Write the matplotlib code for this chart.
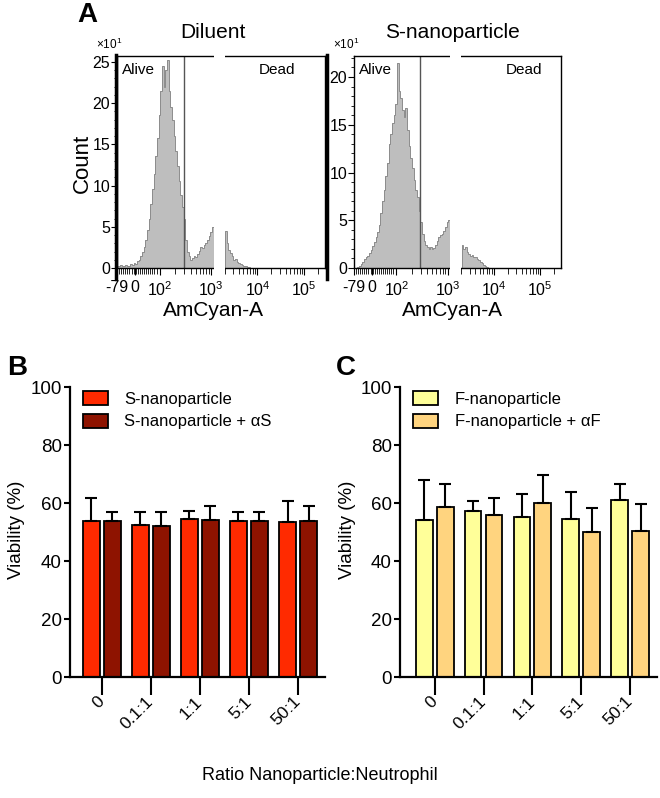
import matplotlib
matplotlib.use('Agg')
import matplotlib.pyplot as plt
import matplotlib.transforms as mtransforms
from matplotlib.patches import Rectangle
from matplotlib.lines import Line2D
import numpy as np

plt.rcParams['font.family'] = ['Liberation Sans', 'DejaVu Sans']
plt.rcParams['mathtext.default'] = 'regular'

# ---- panel A: flow histograms (counts x10, channel bins of 8) ----
diluent_alive = [0.2, 0.3, 0.4, 0.2, 0.3, 0.4, 0.2, 0.3, 0.5, 0.4, 0.6, 0.5,
                 0.8, 1.0, 1.4, 2.0, 2.6, 3.4, 4.6, 6.0, 7.8, 9.6, 11.4, 13.6,
                 15.8, 18.6, 21.5, 24.5, 22.0, 24.0, 25.2, 21.5, 19.5, 18.0,
                 16.0, 14.2, 12.4, 10.6, 8.8, 7.4, 6.0, 3.4, 2.0, 1.4, 1.0,
                 1.2, 1.5, 1.3, 1.7, 2.1, 2.5, 2.4, 2.8, 3.0, 3.4, 3.9, 4.4, 5.0]
diluent_dead = [4.5, 3.0, 2.2, 1.8, 1.4, 1.0, 1.1, 0.7, 0.6, 0.5, 0.4, 0.3,
                0.2, 0.1, 0.1]
snp_alive = [0.0, 0.0, 0.1, 0.2, 0.4, 0.6, 0.9, 1.1, 1.3, 1.6, 1.9, 2.3, 2.7,
             3.2, 3.8, 4.5, 5.8, 7.0, 8.2, 9.6, 11.0, 13.0, 14.0, 15.2, 16.0,
             17.2, 21.5, 18.5, 17.8, 16.5, 15.8, 16.8, 14.5, 12.8, 11.5, 10.5,
             9.2, 8.2, 7.4, 6.0, 4.8, 3.6, 2.8, 2.4, 2.2, 2.0, 2.2, 2.0, 2.1,
             2.4, 2.8, 3.2, 3.5, 3.6, 3.9, 4.3, 4.8, 5.0]
snp_dead = [2.4, 2.0, 2.2, 1.7, 1.5, 1.3, 1.4, 1.1, 1.2, 0.9, 0.8, 0.6, 0.5,
            0.3, 0.2, 0.1]
bin_width = 8
dead_start = 520
gate_channel = 320
gap = (466, 518)
x_tick_pos = [0, 88, 205, 452, 675, 900]
x_tick_lab = ['-79', '0', r'$10^{2}$', r'$10^{3}$', r'$10^{4}$', r'$10^{5}$']

# ---- panels B, C: viability ----
ratios = ['0', '0.1:1', '1:1', '5:1', '50:1']
s_np = [53.7, 52.5, 54.6, 53.9, 53.5]
s_np_err = [7.9, 4.5, 2.8, 3.0, 7.1]
s_np_ab = [53.9, 52.1, 54.2, 53.9, 53.9]
s_np_ab_err = [3.0, 4.9, 4.8, 3.0, 5.1]
f_np = [54.2, 57.3, 55.1, 54.6, 61.0]
f_np_err = [13.8, 3.3, 8.0, 9.1, 5.7]
f_np_ab = [58.5, 55.7, 59.9, 50.1, 50.3]
f_np_ab_err = [8.2, 5.9, 9.8, 8.1, 9.4]

W, H = 660, 798
fig = plt.figure(figsize=(W / 100, H / 100), dpi=100)


def frect(x0, y0, x1, y1):
    return [x0 / W, 1 - y1 / H, (x1 - x0) / W, (y1 - y0) / H]


def ftext(x, y, s, **kw):
    fig.text(x / W, 1 - y / H, s, **kw)


def minor_x():
    pos = list(np.arange(10, 200, 10))
    decades = [(205, 452), (452, 675), (675, 900), (900, 1125)]
    for a, b in decades:
        for k in range(2, 10):
            p = a + np.log10(k) * (b - a)
            if p < 1000:
                pos.append(p)
    return pos


def draw_hist(box, alive, dead, ymax, yticks, title, tx, dead_x):
    ax = fig.add_axes(frect(*box))
    e1 = np.arange(len(alive) + 1) * bin_width
    e2 = dead_start + np.arange(len(dead) + 1) * bin_width
    for vals, edges in ((alive, e1), (dead, e2)):
        ax.stairs(vals, edges, fill=True, facecolor='#BEBEBE',
                  edgecolor='none', zorder=1)
        ax.stairs(vals, edges, color='#8C8C8C', lw=0.7, zorder=1.5)
    ax.axvline(gate_channel, color='#555555', lw=1, zorder=2)
    ax.set_xlim(0, 1000)
    ax.set_ylim(0, ymax)
    for s in ax.spines.values():
        s.set_linewidth(1)
    ax.set_xticks(x_tick_pos)
    ax.set_xticklabels(x_tick_lab, fontsize=11.5)
    ax.set_xticks(minor_x(), minor=True)
    ax.set_yticks(yticks)
    ax.set_yticklabels([str(t) for t in yticks], fontsize=11.5)
    ax.set_yticks(np.arange(0, ymax, 1), minor=True)
    ax.tick_params(axis='x', which='major', length=5, width=0.8, pad=4)
    ax.tick_params(axis='x', which='minor', length=4, width=0.6)
    ax.tick_params(axis='y', which='major', length=4, width=0.8, pad=1)
    ax.tick_params(axis='y', which='minor', length=2.5, width=0.6)
    tr = mtransforms.blended_transform_factory(ax.transData, ax.transAxes)
    ax.add_patch(Rectangle((gap[0], -0.03), gap[1] - gap[0], 1.06,
                           transform=tr, facecolor='white', edgecolor='none',
                           clip_on=False, zorder=5))
    ax.text(0.025, 0.935, 'Alive', transform=ax.transAxes, fontsize=11,
            ha='left', va='center')
    ax.text(dead_x, 0.935, 'Dead', transform=ax.transAxes, fontsize=11,
            ha='center', va='center')
    ftext(tx, 33, title, fontsize=15, ha='center', va='center')
    ftext(tx, 310, 'AmCyan-A', fontsize=15, ha='center', va='center')
    ftext(box[0] - 8, 44, '×10$^{1}$', fontsize=8.5, ha='center',
          va='center')
    return ax


draw_hist((117, 56, 325, 268), diluent_alive, diluent_dead, 25.7,
          [0, 5, 10, 15, 20, 25], 'Diluent', 213, 0.77)
draw_hist((354, 56, 561, 268), snp_alive, snp_dead, 22.2,
          [0, 5, 10, 15, 20], 'S-nanoparticle', 452, 0.82)
for xb in (116, 327):
    fig.add_artist(Line2D([xb / W, xb / W], [1 - 55 / H, 1 - 279 / H],
                          color='black', lw=2.5))
ftext(82, 163, 'Count', fontsize=16, rotation=90, ha='center', va='center')
ftext(87, 15, 'A', fontsize=20, fontweight='bold', ha='center', va='center')


def draw_bars(box, xlim, v1, e1, v2, e2, c1, c2, labels, lx):
    ax = fig.add_axes(frect(*box))
    x = np.arange(len(ratios))
    zeros = np.zeros(len(ratios))
    ekw = dict(elinewidth=1.5, capthick=1.5)
    ax.bar(x - 0.214, v1, 0.343, color=c1, edgecolor='black', lw=1.3,
           yerr=[zeros, e1], capsize=4, error_kw=ekw, label=labels[0])
    ax.bar(x + 0.214, v2, 0.343, color=c2, edgecolor='black', lw=1.3,
           yerr=[zeros, e2], capsize=4, error_kw=ekw, label=labels[1])
    ax.set_xlim(xlim)
    ax.set_ylim(0, 100)
    ax.spines['top'].set_visible(False)
    ax.spines['right'].set_visible(False)
    ax.spines['left'].set_linewidth(1.6)
    ax.spines['bottom'].set_linewidth(1.6)
    ax.set_yticks([0, 20, 40, 60, 80, 100])
    ax.tick_params(axis='y', length=4, width=1.5, labelsize=13.5, pad=2)
    ax.set_xticks(x)
    ax.set_xticklabels(ratios, rotation=45, ha='right', va='center',
                       rotation_mode='anchor', fontsize=12.5)
    ax.tick_params(axis='x', length=13, width=1.5, pad=3)
    ax.legend(loc='upper left', bbox_to_anchor=(0.05, 0.985), frameon=False,
              fontsize=12, handlelength=1.5, handleheight=0.9,
              handletextpad=1.0, labelspacing=0.4, borderaxespad=0,
              borderpad=0)
    ftext(lx, 530, 'Viability (%)', fontsize=13.5, rotation=90, ha='center',
          va='center')
    return ax


draw_bars((70, 387, 325, 677), (-0.65, 4.55), s_np, s_np_err, s_np_ab,
          s_np_ab_err, '#FF2A00', '#8E1300',
          ['S-nanoparticle', 'S-nanoparticle + αS'], 17)
draw_bars((400, 387, 657, 677), (-0.71, 4.55), f_np, f_np_err, f_np_ab,
          f_np_ab_err, '#FFFF99', '#FFD47F',
          ['F-nanoparticle', 'F-nanoparticle + αF'], 347)
ftext(17, 368, 'B', fontsize=20, fontweight='bold', ha='center', va='center')
ftext(346, 368, 'C', fontsize=20, fontweight='bold', ha='center',
      va='center')
ftext(320, 775, 'Ratio Nanoparticle:Neutrophil', fontsize=13, ha='center',
      va='center')

fig.savefig('out.png', dpi=100)
